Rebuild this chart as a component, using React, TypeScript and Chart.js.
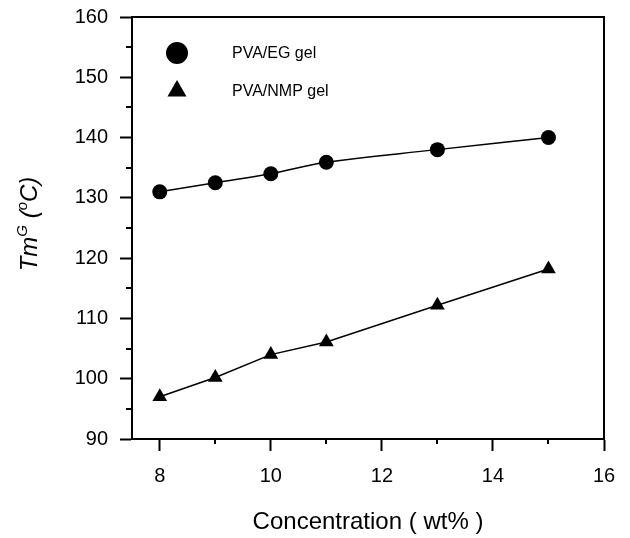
import React, { useEffect, useRef } from "react";
import { Chart, registerables } from "chart.js";

Chart.register(...registerables);

const xValues = [8, 9, 10, 11, 13, 15];
const egValues = [131, 132.5, 134, 135.9, 138, 140];
const nmpValues = [97, 100.2, 104, 106.1, 112.2, 118.2];

const xMajorTicks = [8, 10, 12, 14, 16];
const xMinorTicks = [9, 11, 13, 15];
const yMajorTicks = [90, 100, 110, 120, 130, 140, 150, 160];
const yMinorTicks = [95, 105, 115, 125, 135, 145, 155];

const seriesLabels = ["PVA/EG gel", "PVA/NMP gel"];
const xTitle = "Concentration ( wt% )";

const FONT = "'Liberation Sans', Arial, sans-serif";

const framePlugin = {
  id: "frame",
  afterDraw(chart: any) {
    const { ctx, chartArea, scales } = chart;
    const { left, right, top, bottom } = chartArea;
    ctx.save();
    ctx.strokeStyle = "#000";
    ctx.lineWidth = 2;
    ctx.strokeRect(left, top, right - left, bottom - top);
    // minor ticks
    ctx.beginPath();
    xMinorTicks.forEach((v) => {
      const px = Math.round(scales.x.getPixelForValue(v));
      ctx.moveTo(px, bottom);
      ctx.lineTo(px, bottom + 5);
    });
    yMinorTicks.forEach((v) => {
      const py = Math.round(scales.y.getPixelForValue(v));
      ctx.moveTo(left, py);
      ctx.lineTo(left - 6, py);
    });
    ctx.stroke();

    // legend
    const lx = left + 45;
    const tx = left + 100;
    const ly1 = top + 36;
    const ly2 = top + 74;
    ctx.fillStyle = "#000";
    ctx.beginPath();
    ctx.arc(lx, ly1, 11, 0, Math.PI * 2);
    ctx.fill();
    const r = 11;
    ctx.beginPath();
    ctx.moveTo(lx, ly2 - r);
    ctx.lineTo(lx + r * Math.sin((2 * Math.PI) / 3), ly2 - r * Math.cos((2 * Math.PI) / 3));
    ctx.lineTo(lx + r * Math.sin((4 * Math.PI) / 3), ly2 - r * Math.cos((4 * Math.PI) / 3));
    ctx.closePath();
    ctx.fill();
    ctx.font = `16px ${FONT}`;
    ctx.textAlign = "left";
    ctx.textBaseline = "middle";
    ctx.fillText(seriesLabels[0], tx, ly1 + 1);
    ctx.fillText(seriesLabels[1], tx, ly2 + 1);

    // y title with superscripts
    const cy = (top + bottom) / 2 - 4;
    ctx.translate(28, cy);
    ctx.rotate(-Math.PI / 2);
    const big = `italic 24px ${FONT}`;
    const small = `italic 15px ${FONT}`;
    const parts: [string, string, number][] = [
      ["Tm", big, 0],
      ["G", small, -10],
      [" (", big, 0],
      ["o", small, -10],
      ["C)", big, 0],
    ];
    let total = 0;
    parts.forEach(([t, f]) => {
      ctx.font = f;
      total += ctx.measureText(t).width;
    });
    let x = -total / 2;
    ctx.textBaseline = "alphabetic";
    parts.forEach(([t, f, dy]) => {
      ctx.font = f;
      ctx.fillText(t, x, 9 + dy);
      x += ctx.measureText(t).width;
    });
    ctx.restore();
  },
};

export default function App() {
  const ref = useRef<HTMLCanvasElement>(null);
  useEffect(() => {
    document.body.style.margin = "0";
    const chart = new Chart(ref.current!, {
      type: "line",
      data: {
        datasets: [
          {
            label: seriesLabels[0],
            data: xValues.map((x, i) => ({ x, y: egValues[i] })),
            borderColor: "#000",
            backgroundColor: "#000",
            borderWidth: 1.5,
            pointStyle: "circle",
            pointRadius: 7.5,
            pointBorderWidth: 0,
            tension: 0.4,
          },
          {
            label: seriesLabels[1],
            data: xValues.map((x, i) => ({ x, y: nmpValues[i] })),
            borderColor: "#000",
            backgroundColor: "#000",
            borderWidth: 1.5,
            pointStyle: "triangle",
            pointRadius: 8.5,
            pointBorderWidth: 0,
            tension: 0,
          },
        ],
      },
      options: {
        animation: false,
        responsive: false,
        layout: { padding: { top: 17, right: 26, left: 0, bottom: 0 } },
        plugins: { legend: { display: false }, tooltip: { enabled: false } },
        scales: {
          x: {
            type: "linear",
            min: 7.5,
            max: 16,
            afterBuildTicks: (s: any) => {
              s.ticks = xMajorTicks.map((v) => ({ value: v }));
            },
            afterFit: (s: any) => {
              s.height = 99;
              s.paddingLeft = 0;
              s.paddingRight = 0;
            },
            grid: {
              drawOnChartArea: false,
              drawTicks: true,
              tickLength: 12,
              tickWidth: 2,
              tickColor: "#000",
            },
            border: { display: true, color: "#000", width: 2 },
            ticks: {
              color: "#000",
              font: { family: FONT, size: 20 },
              padding: 13,
              maxRotation: 0,
            },
            title: {
              display: true,
              text: xTitle,
              color: "#000",
              font: { family: FONT, size: 24 },
              padding: { top: 0, bottom: 1 },
            },
          },
          y: {
            type: "linear",
            min: 90,
            max: 160,
            afterBuildTicks: (s: any) => {
              s.ticks = yMajorTicks.map((v) => ({ value: v }));
            },
            afterFit: (s: any) => {
              s.width = 132;
              s.paddingTop = 0;
              s.paddingBottom = 0;
            },
            grid: {
              drawOnChartArea: false,
              drawTicks: true,
              tickLength: 12,
              tickWidth: 2,
              tickColor: "#000",
            },
            border: { display: true, color: "#000", width: 2 },
            ticks: {
              color: "#000",
              font: { family: FONT, size: 20 },
              padding: 12,
            },
          },
        },
      },
      plugins: [framePlugin],
    } as any);
    return () => chart.destroy();
  }, []);
  return (
    <div style={{ width: 630, height: 538 }}>
      <canvas ref={ref} width={630} height={538} style={{ display: "block" }} />
    </div>
  );
}
